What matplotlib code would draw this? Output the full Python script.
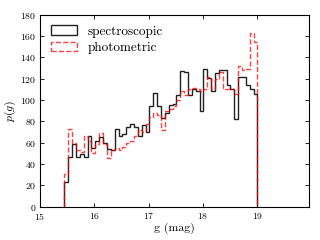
import numpy as np
import matplotlib
matplotlib.use("Agg")
import matplotlib.pyplot as plt

# ---- data ----
bin_lo, bin_hi, n_bins = 15.45, 19.0, 50
spectroscopic = [23, 47, 59, 47, 49, 47, 66, 55, 62, 65,
                 60, 54, 53, 73, 66, 68, 75, 78, 75, 66,
                 77, 70, 94, 107, 94, 83, 88, 95, 96, 105,
                 127, 126, 105, 110, 109, 90, 129, 121, 109, 125,
                 128, 128, 114, 110, 82, 122, 122, 114, 110, 106]
photometric = [31, 73, 60, 53, 51, 66, 62, 50, 59, 69,
               59, 46, 53, 55, 53, 56, 60, 62, 66, 72,
               70, 78, 84, 88, 86, 72, 90, 92, 94, 100,
               109, 105, 110, 111, 110, 109, 110, 122, 110, 120,
               126, 110, 110, 110, 106, 132, 128, 129, 163, 155]
series_labels = ["spectroscopic", "photometric"]
xticks = [15, 16, 17, 18, 19]
yticks = list(range(0, 181, 20))

plt.rcParams.update({
    "font.family": "serif",
    "font.serif": ["cmr10", "DejaVu Serif"],
    "mathtext.fontset": "cm",
    "axes.formatter.use_mathtext": True,
    "xtick.direction": "in",
    "ytick.direction": "in",
    "xtick.top": True,
    "ytick.right": True,
})

edges = np.linspace(bin_lo, bin_hi, n_bins + 1)
centers = 0.5 * (edges[:-1] + edges[1:])

fig = plt.figure(figsize=(3.2, 2.4), dpi=100)
ax = fig.add_axes([0.125, 0.139, 0.841, 0.799])

ax.hist(centers, bins=edges, weights=spectroscopic, histtype="step",
        color="#222222", lw=1.0, label=series_labels[0])
ax.hist(centers, bins=edges, weights=photometric, histtype="step",
        color="red", alpha=0.75, ls="--", lw=1.0, label=series_labels[1])

ax.set_xlim(15, 19.95)
ax.set_ylim(0, 180)
ax.set_xticks(xticks)
ax.set_yticks(yticks)
ax.tick_params(labelsize=7, length=3, width=0.6)
ax.tick_params(axis="x", pad=3)
ax.tick_params(axis="y", pad=2.5)
for s in ax.spines.values():
    s.set_linewidth(0.8)
ax.set_xlabel("g (mag)", fontsize=8.5, labelpad=1)
ax.set_ylabel(r"$p(g)$", fontsize=8.5, labelpad=2)
ax.legend(loc="upper left", frameon=False, fontsize=9.5,
          handlelength=2.0, handletextpad=0.8, borderaxespad=0.4,
          labelspacing=0.3)

fig.savefig("out.png", dpi=100)
